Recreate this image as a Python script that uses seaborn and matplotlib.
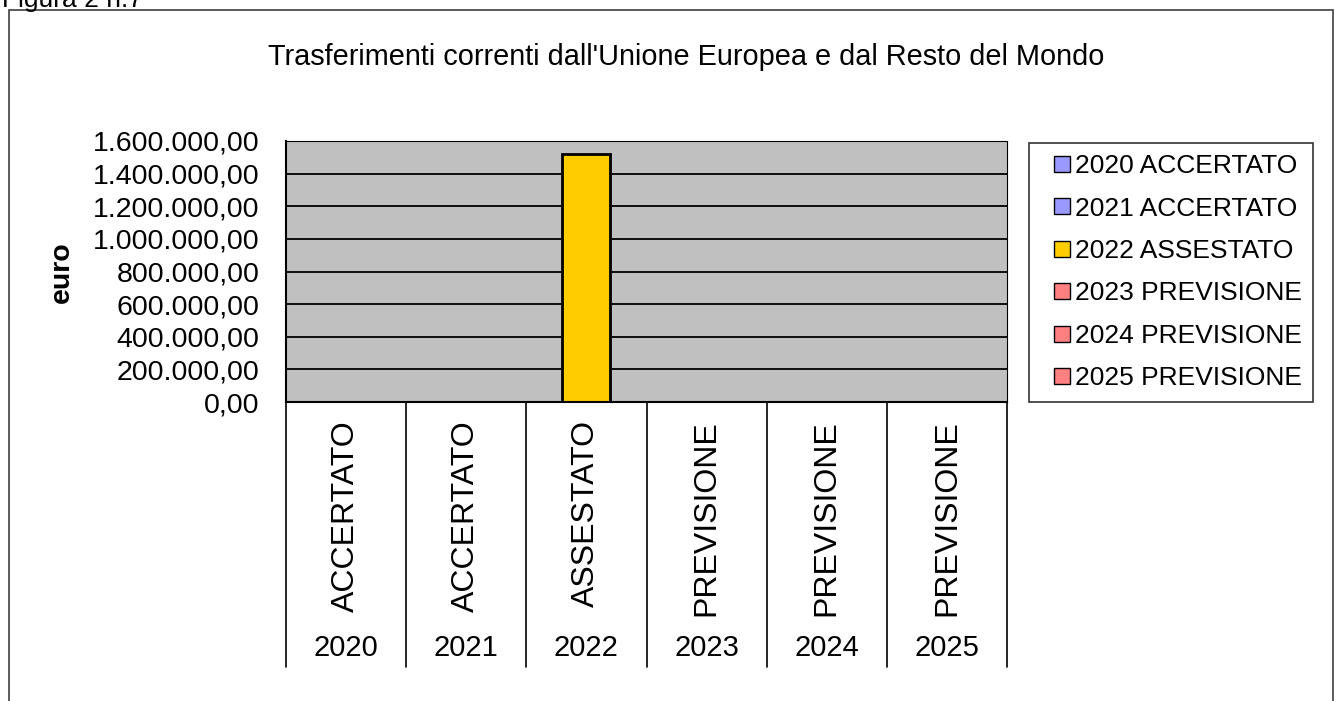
import numpy as np
import pandas as pd
import matplotlib
matplotlib.use("Agg")
import matplotlib.pyplot as plt
import matplotlib.transforms as mtransforms
from matplotlib.patches import Rectangle
from matplotlib.lines import Line2D
import seaborn as sns

# data
years = ["2020", "2021", "2022", "2023", "2024", "2025"]
stati = ["ACCERTATO", "ACCERTATO", "ASSESTATO", "PREVISIONE", "PREVISIONE", "PREVISIONE"]
valori = [0, 0, 1520000, 0, 0, 0]
colori = ["#9999FF", "#9999FF", "#FFCC00", "#FF8080", "#FF8080", "#FF8080"]

titolo = "Trasferimenti correnti dall'Unione Europea e dal Resto del Mondo"

sns.set_style("white")
plt.rcParams["font.family"] = ["Liberation Sans", "DejaVu Sans"]
plt.rcParams["text.color"] = "black"
plt.rcParams["ytick.labelcolor"] = "black"

etichette = [y + " " + s for y, s in zip(years, stati)]
df = pd.DataFrame({"voce": etichette, "valore": valori})

fig = plt.figure(figsize=(13.35, 7.01), dpi=100)
ax = fig.add_axes([286/1335, 1-402/701, (1007-286)/1335, (402-141)/701])

sns.barplot(data=df, x="voce", y="valore", hue="voce", palette=colori,
            dodge=False, width=0.4, edgecolor="black", linewidth=2,
            saturation=1, legend=False, ax=ax)

ax.set_facecolor("#C0C0C0")
ax.set_xlim(-0.5, 5.5)
ax.set_ylim(0, 1600000)
ticks = np.arange(0, 1600001, 200000)
ax.set_yticks(ticks)
ax.set_yticklabels([f"{t:,.2f}".replace(",", "X").replace(".", ",").replace("X", ".") for t in ticks],
                   fontsize=20.5, color="black")
ax.tick_params(axis="y", direction="out", length=6, width=1.2, color="black", pad=13)
ax.set_xticks([])
ax.set_xlabel("")
ax.set_ylabel("")
for t in ticks[1:-1]:
    ax.axhline(t, color="black", lw=1.3, zorder=0.5)
for s in ax.spines.values():
    s.set_color("black")
ax.spines["left"].set_linewidth(1.5)
ax.spines["bottom"].set_linewidth(1.5)
ax.spines["top"].set_linewidth(0.8)
ax.spines["right"].set_linewidth(0.8)
ax.set_axisbelow(True)

# multi-level category axis
trans = mtransforms.blended_transform_factory(ax.transData, ax.transAxes)
for i in range(len(years) + 1):
    ax.add_line(Line2D([i - 0.5, i - 0.5], [0, -265/261], transform=trans,
                       color="black", lw=1.2, clip_on=False))
for i, (y, s) in enumerate(zip(years, stati)):
    ax.text(i, -18/261, s, transform=trans, rotation=90, ha="center", va="top", fontsize=23)
    ax.text(i, -246/261, y, transform=trans, ha="center", va="center", fontsize=21)

fig.text(62/1335, 1-272/701, "euro", rotation=90, ha="center", va="center",
         fontsize=20.5, fontweight="bold")
fig.text(686/1335, 1-57/701, titolo, ha="center", va="center", fontsize=20.8)
fig.text(2/1335, 1.0, "Figura 2 n.7", ha="left", va="center", fontsize=19)

# legend
handles = [Line2D([], [], marker="s", linestyle="none", markersize=11,
                  markerfacecolor=c, markeredgecolor="black", markeredgewidth=1)
           for c in colori]
leg = fig.legend(handles, etichette, loc="upper left",
                 bbox_to_anchor=(1029/1335, 1-143/701), fontsize=19,
                 frameon=True, fancybox=False, edgecolor="black",
                 handlelength=1.67, handletextpad=-0.35, labelspacing=0.7,
                 borderpad=0.42, borderaxespad=0)
leg.get_frame().set_linewidth(1.2)

# outer border
fig.patches.append(Rectangle((9/1335, -0.1), (1333-9)/1335, 1.1 - 10/701,
                             transform=fig.transFigure, fill=False,
                             edgecolor="#404040", lw=1.2))

fig.savefig("out.png", dpi=100)
